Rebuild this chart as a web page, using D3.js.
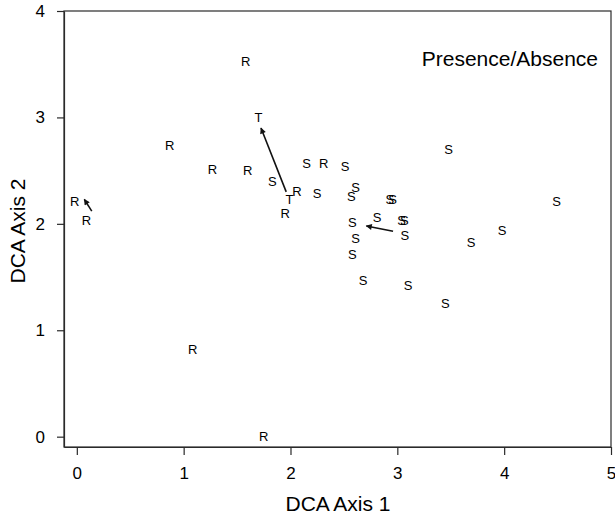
<!DOCTYPE html>
<html>
<head>
<meta charset="utf-8">
<script src="https://cdn.jsdelivr.net/npm/d3@7"></script>
<style>
  body { margin: 0; background: #fff; }
  svg { font-family: "Liberation Sans", Arial, sans-serif; }
  .axis path, .axis line { stroke: #2a2a2a; stroke-width: 1.2; }
  .axis text { font-size: 17px; fill: #000; }
</style>
</head>
<body>
<svg width="615" height="516"></svg>
<script>
// site scores, one letter per site
const siteType = ["R", "R", "R", "R", "R", "R", "R", "R", "R", "R", "R",
  "T", "T",
  "S", "S", "S", "S", "S", "S", "S", "S", "S", "S", "S", "S", "S", "S", "S",
  "S", "S", "S", "S", "S", "S", "S"];
const siteX = [1.58, 0.87, 1.27, 1.60, 2.06, 1.95, 2.31, -0.02, 0.09, 1.085, 1.75,
  1.70, 1.99,
  1.83, 2.15, 2.51, 2.25, 2.61, 2.57, 2.93, 2.955, 2.81, 2.58, 3.04, 3.065, 3.07,
  2.61, 2.58, 2.68, 3.10, 3.48, 4.49, 3.98, 3.69, 3.45];
const siteY = [3.53, 2.74, 2.51, 2.50, 2.31, 2.10, 2.57, 2.21, 2.03, 0.82, 0.007,
  3.00, 2.23,
  2.40, 2.57, 2.54, 2.29, 2.34, 2.26, 2.23, 2.23, 2.06, 2.01, 2.03, 2.03, 1.89,
  1.86, 1.71, 1.47, 1.42, 2.70, 2.21, 1.94, 1.83, 1.25];

// centroid shift arrows (from -> to)
const arrowX0 = [1.96, 2.96, 0.14];
const arrowY0 = [2.30, 1.93, 2.12];
const arrowX1 = [1.724, 2.71, 0.07];
const arrowY1 = [2.90, 1.98, 2.23];

const xTicks = [0, 1, 2, 3, 4, 5];
const yTicks = [0, 1, 2, 3, 4];

const svg = d3.select("svg"),
  margin = { top: 11, right: 4, bottom: 69, left: 64 },
  width = +svg.attr("width") - margin.left - margin.right,
  height = +svg.attr("height") - margin.top - margin.bottom,
  x = d3.scaleLinear().domain([-0.12, 5]).range([0, width]),
  y = d3.scaleLinear().domain([-0.097, 4]).range([height, 0]),
  g = svg.append("g").attr("transform", `translate(${margin.left},${margin.top})`);

svg.append("defs")
  .append("marker")
  .attr("id", "head")
  .attr("viewBox", "0 0 10 10")
  .attr("refX", 9)
  .attr("refY", 5)
  .attr("markerWidth", 9)
  .attr("markerHeight", 6)
  .attr("markerUnits", "userSpaceOnUse")
  .attr("orient", "auto")
  .append("path")
  .attr("d", "M0,0L10,5L0,10z")
  .attr("fill", "#111");

// frame
g.append("rect")
  .attr("width", width)
  .attr("height", height)
  .attr("fill", "none")
  .attr("stroke", "#2a2a2a")
  .attr("stroke-width", 1.2);

g.append("g")
  .attr("class", "axis")
  .attr("transform", `translate(0,${height})`)
  .call(d3.axisBottom(x).tickValues(xTicks).tickFormat(d3.format("d")).tickSize(8).tickPadding(12).tickSizeOuter(0));

g.append("g")
  .attr("class", "axis")
  .call(d3.axisLeft(y).tickValues(yTicks).tickFormat(d3.format("d")).tickSize(7).tickPadding(12).tickSizeOuter(0));

g.selectAll(".arrow")
  .data(d3.range(arrowX0.length))
  .enter()
  .append("line")
  .attr("class", "arrow")
  .attr("x1", (i) => x(arrowX0[i]))
  .attr("y1", (i) => y(arrowY0[i]))
  .attr("x2", (i) => x(arrowX1[i]))
  .attr("y2", (i) => y(arrowY1[i]))
  .attr("stroke", "#111")
  .attr("stroke-width", 1.6)
  .attr("marker-end", "url(#head)");

g.selectAll(".site")
  .data(d3.range(siteType.length))
  .enter()
  .append("text")
  .attr("class", "site")
  .attr("x", (i) => x(siteX[i]))
  .attr("y", (i) => y(siteY[i]))
  .attr("dy", "0.36em")
  .attr("text-anchor", "middle")
  .attr("font-size", "13px")
  .attr("fill", "#000")
  .text((i) => siteType[i]);

g.append("text")
  .attr("x", width - 13)
  .attr("y", 55)
  .attr("text-anchor", "end")
  .attr("font-size", "21px")
  .attr("fill", "#000")
  .text("Presence/Absence");

svg.append("text")
  .attr("x", 338)
  .attr("y", 511)
  .attr("text-anchor", "middle")
  .attr("font-size", "21px")
  .attr("fill", "#000")
  .text("DCA Axis 1");

svg.append("text")
  .attr("transform", "translate(25,231) rotate(-90)")
  .attr("text-anchor", "middle")
  .attr("font-size", "21px")
  .attr("fill", "#000")
  .text("DCA Axis 2");
</script>
</body>
</html>
